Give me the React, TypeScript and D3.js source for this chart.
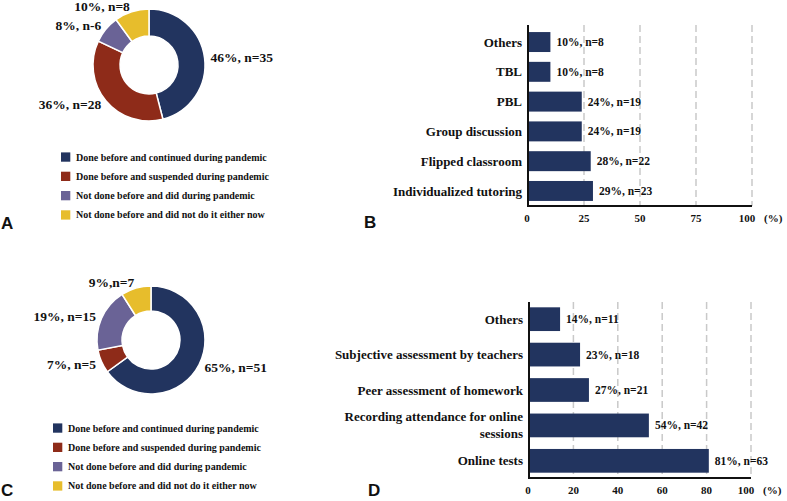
import React from "react";
import * as d3 from "d3";

// ---------- data ----------
const legendLabels = [
  "Done before and continued during pandemic",
  "Done before and suspended during pandemic",
  "Not done before and did during pandemic",
  "Not done before and did not do it either now",
];
const sliceColors = ["#22345F", "#8E2B19", "#6A6396", "#E7BD2C"];

const pieAValues = [46, 36, 8, 10];
const pieALabels = ["46%, n=35", "36%, n=28", "8%, n-6", "10%, n=8"];

const pieCValues = [65, 7, 19, 9];
const pieCLabels = ["65%, n=51", "7%, n=5", "19%, n=15", "9%,n=7"];

const barBCategories = ["Others", "TBL", "PBL", "Group discussion", "Flipped classroom", "Individualized tutoring"];
const barBValues = [10, 10, 24, 24, 28, 29];
const barBLabels = ["10%, n=8", "10%, n=8", "24%, n=19", "24%, n=19", "28%, n=22", "29%, n=23"];
const barBTicks = [0, 25, 50, 75, 100];

const barDCategories = [
  "Others",
  "Subjective assessment by teachers",
  "Peer assessment of homework",
  "Recording attendance for online\nsessions",
  "Online tests",
];
const barDValues = [14, 23, 27, 54, 81];
const barDLabels = ["14%, n=11", "23%, n=18", "27%, n=21", "54%, n=42", "81%, n=63"];
const barDTicks = [0, 20, 40, 60, 80, 100];

const SERIF = "'Liberation Serif', 'Times New Roman', Times, serif";
const SANS = "'Liberation Sans', Arial, Helvetica, sans-serif";
const BAR_COLOR = "#22345F";

type DonutProps = {
  cx: number; cy: number; r: number; rIn: number;
  values: number[]; labels: string[];
  legendX: number; legendY: number; legendStep: number;
};

function Donut({ cx, cy, r, rIn, values, labels, legendX, legendY, legendStep }: DonutProps) {
  const pie = d3.pie<number>().sort(null).value((d) => d);
  const arcs = pie(values);
  const arc = d3.arc<d3.PieArcDatum<number>>().innerRadius(rIn).outerRadius(r);
  return (
    <g>
      <g transform={`translate(${cx},${cy})`}>
        {arcs.map((a, i) => (
          <path key={i} d={arc(a) || ""} fill={sliceColors[i]} stroke="#fff" strokeWidth={1.5} />
        ))}
        {arcs.map((a, i) => {
          const mid = (a.startAngle + a.endAngle) / 2;
          const rr = r + 6;
          const x = Math.sin(mid) * rr;
          const y = -Math.cos(mid) * rr;
          return (
            <text key={i} x={x} y={y} dy="0.35em" textAnchor={x > 0 ? "start" : "end"}
              fontFamily={SERIF} fontWeight="bold" fontSize={13.5} fill="#111">
              {labels[i]}
            </text>
          );
        })}
      </g>
      {legendLabels.map((l, i) => (
        <g key={i} transform={`translate(${legendX},${legendY + i * legendStep})`}>
          <rect x={0} y={-4.6} width={9.3} height={9.3} fill={sliceColors[i]} />
          <text x={15} y={0} dy="0.35em" fontFamily={SERIF} fontWeight="bold" fontSize={10} fill="#111">{l}</text>
        </g>
      ))}
    </g>
  );
}

type BarsProps = {
  categories: string[]; values: number[]; labels: string[]; ticks: number[];
  x0: number; x1: number; axisTop: number; bandTop: number; bottom: number;
  padOuter: number;
};

function Bars({ categories, values, labels, ticks, x0, x1, axisTop, bandTop, bottom, padOuter }: BarsProps) {
  const x = d3.scaleLinear().domain([0, 100]).range([x0, x1]);
  const y = d3.scaleBand<string>().domain(categories).range([bandTop, bottom]).paddingInner(0.33).paddingOuter(padOuter);
  const last = ticks[ticks.length - 1];
  return (
    <g>
      {ticks.filter((t) => t > 0).map((t) => (
        <line key={t} x1={x(t)} x2={x(t)} y1={axisTop} y2={bottom} stroke="#c9c9c9" strokeWidth={1.5} strokeDasharray="7,4" />
      ))}
      {categories.map((c, i) => (
        <rect key={c} x={x(0)} y={y(c)!} width={x(values[i]) - x(0)} height={y.bandwidth()} fill={BAR_COLOR} />
      ))}
      {categories.map((c, i) => (
        <text key={c} x={x(values[i]) + 6} y={y(c)! + y.bandwidth() / 2} dy="0.35em"
          fontFamily={SERIF} fontWeight="bold" fontSize={11.5} fill="#111">{labels[i]}</text>
      ))}
      {categories.map((c) => {
        const lines = c.split("\n");
        const cy = y(c)! + y.bandwidth() / 2;
        return (
          <text key={c} x={x(0) - 6} y={cy} textAnchor="end" fontFamily={SERIF} fontWeight="bold" fontSize={13} fill="#111">
            {lines.map((ln, j) => (
              <tspan key={j} x={x(0) - 6} y={cy + (j - (lines.length - 1) / 2) * 17} dy="0.35em">{ln}</tspan>
            ))}
          </text>
        );
      })}
      <line x1={x(0)} x2={x(0)} y1={axisTop} y2={bottom + 1} stroke="#111" strokeWidth={2} />
      <line x1={x(0) - 1} x2={x(100)} y1={bottom} y2={bottom} stroke="#111" strokeWidth={2} />
      {ticks.map((t) => (
        <text key={t} x={x(t) + (t === last ? -5 : 0) + (t === 0 ? -1 : 0)} y={bottom + 16} textAnchor="middle"
          fontFamily={SERIF} fontWeight="bold" fontSize={11} fill="#111">{t}</text>
      ))}
      <text x={x(100) + 12} y={bottom + 16} fontFamily={SERIF} fontWeight="bold" fontSize={11} fill="#111">(%)</text>
    </g>
  );
}

export default function App() {
  const letter = (t: string, px: number, py: number) => (
    <text x={px} y={py} fontFamily={SANS} fontWeight="bold" fontSize={17} fill="#111">{t}</text>
  );
  return (
    <div style={{ position: "fixed", left: 0, top: 0, width: 787, height: 501, background: "#fff" }}>
      <svg width={787} height={501} viewBox="0 0 787 501" style={{ display: "block" }}>
        <rect width={787} height={501} fill="#fff" />
        <Donut cx={149} cy={65} r={56} rIn={29} values={pieAValues} labels={pieALabels}
          legendX={61} legendY={157} legendStep={19.3} />
        <Donut cx={151} cy={340} r={54} rIn={29} values={pieCValues} labels={pieCLabels}
          legendX={53} legendY={428} legendStep={19.3} />
        <Bars categories={barBCategories} values={barBValues} labels={barBLabels} ticks={barBTicks}
          x0={528} x1={752} axisTop={25} bandTop={27} bottom={206} padOuter={0.17} />
        <Bars categories={barDCategories} values={barDValues} labels={barDLabels} ticks={barDTicks}
          x0={529} x1={751} axisTop={302} bandTop={302} bottom={478} padOuter={0.15} />
        {letter("A", 1, 229)}
        {letter("B", 364, 228)}
        {letter("C", 1, 496)}
        {letter("D", 368, 496)}
      </svg>
    </div>
  );
}
